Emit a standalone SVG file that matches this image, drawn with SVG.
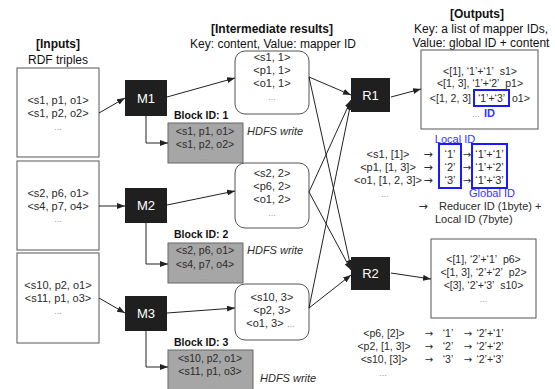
<svg xmlns="http://www.w3.org/2000/svg" width="555" height="389" viewBox="0 0 555 389">
<defs>
<marker id="arr" markerUnits="userSpaceOnUse" markerWidth="8" markerHeight="6" refX="8" refY="3" orient="auto">
<path d="M0,0 L8,3 L0,6 z" fill="#222"/>
</marker>
<style>
text{font-family:"Liberation Sans",Arial,sans-serif;fill:#2a2a2a}
.t{font-size:11px;text-anchor:middle}
.s{font-size:10.5px;text-anchor:middle}
.h{font-size:12px;text-anchor:middle;font-weight:bold;fill:#111}
.k{font-size:12px;text-anchor:middle;fill:#111}
.d{font-size:9px;fill:#999;text-anchor:middle}
.w{font-size:13px;fill:#fff;text-anchor:middle}
.bl{font-size:10.5px;font-weight:bold;fill:#111}
.hd{font-size:11px;font-style:italic}
.ar{font-size:11px;text-anchor:middle;font-family:"DejaVu Sans",sans-serif}
.box{fill:#fff;stroke:#555;stroke-width:1}
.blk{fill:#1f1f1f}
.gray{fill:#a6a6a6;stroke:#666;stroke-width:1}
.blue{fill:none;stroke:#1a1aff;stroke-width:2}
.bt{fill:#3333ff}
.c{fill:none;stroke:#222;stroke-width:1;marker-end:url(#arr)}
</style>
</defs>
<rect width="555" height="389" fill="#fff"/>

<g id="titles">
<text class="h" x="58" y="48">[Inputs]</text>
<text class="k" x="58" y="64">RDF triples</text>
<text class="h" x="272" y="33">[Intermediate results]</text>
<text class="k" x="273" y="48">Key: content, Value: mapper ID</text>
<text class="h" x="477" y="18">[Outputs]</text>
<text class="k" x="481" y="33">Key: a list of mapper IDs,</text>
<text class="k" x="481" y="47">Value: global ID + content</text>
</g>

<g id="input1">
<rect class="box" x="17" y="68" width="82" height="89"/>
<text class="t" x="58" y="104">&lt;s1, p1, o1&gt;</text>
<text class="t" x="58" y="117">&lt;s1, p2, o2&gt;</text>
<text class="d" x="58" y="130">...</text>
</g>
<g id="input2">
<rect class="box" x="17" y="161" width="82" height="89"/>
<text class="t" x="58" y="197">&lt;s2, p6, o1&gt;</text>
<text class="t" x="58" y="210">&lt;s4, p7, o4&gt;</text>
<text class="d" x="58" y="222">...</text>
</g>
<g id="input3">
<rect class="box" x="17" y="253" width="82" height="90"/>
<text class="t" x="58" y="289">&lt;s10, p2, o1&gt;</text>
<text class="t" x="58" y="302">&lt;s11, p1, o3&gt;</text>
<text class="d" x="58" y="314">...</text>
</g>

<g id="M1"><rect class="blk" x="125" y="80" width="42" height="36"/><text class="w" x="146" y="103">M1</text></g>
<g id="M2"><rect class="blk" x="125" y="188" width="42" height="35"/><text class="w" x="146" y="210">M2</text></g>
<g id="M3"><rect class="blk" x="125" y="296" width="42" height="35"/><text class="w" x="146" y="318">M3</text></g>

<g id="block1">
<text class="bl" x="174" y="119">Block ID: 1</text>
<rect class="gray" x="168" y="123" width="75" height="40"/>
<text class="s" x="205" y="135">&lt;s1, p1, o1&gt;</text>
<text class="s" x="205" y="148">&lt;s1, p2, o2&gt;</text>
<text class="d" x="205" y="160">...</text>
<text class="hd" x="247" y="135">HDFS write</text>
</g>
<g id="block2">
<text class="bl" x="174" y="238">Block ID: 2</text>
<rect class="gray" x="168" y="243" width="75" height="40"/>
<text class="s" x="205" y="254">&lt;s2, p6, o1&gt;</text>
<text class="s" x="205" y="268">&lt;s4, p7, o4&gt;</text>
<text class="d" x="205" y="280">...</text>
<text class="hd" x="247" y="254">HDFS write</text>
</g>
<g id="block3">
<text class="bl" x="174" y="346">Block ID: 3</text>
<rect class="gray" x="168" y="350" width="85" height="42"/>
<text class="s" x="210" y="362">&lt;s10, p2, o1&gt;</text>
<text class="s" x="210" y="375">&lt;s11, p1, o3&gt;</text>
<text class="d" x="210" y="387">...</text>
<text class="hd" x="260" y="382">HDFS write</text>
</g>

<g id="inter1">
<rect class="box" x="235" y="51" width="74" height="63" rx="10"/>
<text class="t" x="272" y="61">&lt;s1, 1&gt;</text>
<text class="t" x="272" y="74">&lt;p1, 1&gt;</text>
<text class="t" x="272" y="87">&lt;o1, 1&gt;</text>
<text class="d" x="272" y="100">...</text>
</g>
<g id="inter2">
<rect class="box" x="235" y="163" width="74" height="65" rx="10"/>
<text class="t" x="272" y="177">&lt;s2, 2&gt;</text>
<text class="t" x="272" y="190">&lt;p6, 2&gt;</text>
<text class="t" x="272" y="203">&lt;o1, 2&gt;</text>
<text class="d" x="272" y="216">...</text>
</g>
<g id="inter3">
<rect class="box" x="235" y="284" width="74" height="56" rx="10"/>
<text class="t" x="272" y="301">&lt;s10, 3&gt;</text>
<text class="t" x="272" y="314">&lt;p2, 3&gt;</text>
<text class="t" x="265" y="327">&lt;o1, 3&gt;</text>
<text class="d" x="291" y="327">...</text>
</g>

<g id="R1"><rect class="blk" x="351" y="78" width="39" height="34"/><text class="w" x="370.5" y="100">R1</text></g>
<g id="R2"><rect class="blk" x="351" y="257" width="39" height="33"/><text class="w" x="370.5" y="278">R2</text></g>

<g id="output1">
<rect class="box" x="421" y="50" width="117" height="79"/>
<text class="s" x="480" y="75">&lt;[1], ‘1’+‘1’&#160;&#160;s1&gt;</text>
<text class="s" x="480" y="87">&lt;[1, 3], ‘1’+‘2’&#160;&#160;p1&gt;</text>
<text class="s" x="471" y="102" style="text-anchor:end">&lt;[1, 2, 3]</text>
<rect class="blue" x="474" y="90" width="35" height="16"/>
<text class="s" x="491.5" y="102">‘1’+‘3’</text>
<text class="s" x="512" y="102" style="text-anchor:start">o1&gt;</text>
<text class="d" x="476" y="117">...</text>
<text class="bt" x="484" y="117" style="font-size:11px;font-weight:bold">ID</text>
</g>

<g id="localmap">
<text class="t" x="388" y="158">&lt;s1, [1]&gt;</text>
<text class="t" x="388" y="171">&lt;p1, [1, 3]&gt;</text>
<text class="t" x="388" y="184">&lt;o1, [1, 2, 3]&gt;</text>
<text class="d" x="385" y="197">...</text>
<text class="ar" x="428" y="158">→</text>
<text class="ar" x="428" y="171">→</text>
<text class="ar" x="428" y="184">→</text>
<text class="bt" x="455" y="143" style="font-size:11px;text-anchor:middle">Local ID</text>
<rect class="blue" x="439" y="144" width="22" height="44"/>
<text class="t" x="450" y="158">‘1’</text>
<text class="t" x="450" y="171">‘2’</text>
<text class="t" x="450" y="184">‘3’</text>
<text class="ar" x="467" y="158" style="font-size:10px">→</text>
<text class="ar" x="467" y="171" style="font-size:10px">→</text>
<text class="ar" x="467" y="184" style="font-size:10px">→</text>
<rect class="blue" x="472" y="144" width="35" height="44"/>
<text class="t" x="489.5" y="158">‘1’+‘1’</text>
<text class="t" x="489.5" y="171">‘1’+‘2’</text>
<text class="t" x="489.5" y="184">‘1’+‘3’</text>
<text class="bt" x="492" y="197" style="font-size:11px;text-anchor:middle">Global ID</text>
<text class="ar" x="423" y="210">→</text>
<text x="439" y="210" style="font-size:11px">Reducer ID (1byte) +</text>
<text x="435" y="223" style="font-size:11px">Local ID (7byte)</text>
</g>

<g id="output2">
<rect class="box" x="431" y="239" width="105" height="79"/>
<text class="s" x="483.5" y="263">&lt;[1], ‘2’+‘1’&#160;&#160;p6&gt;</text>
<text class="s" x="483.5" y="276">&lt;[1, 3], ‘2’+‘2’&#160;&#160;p2&gt;</text>
<text class="s" x="483.5" y="289">&lt;[3], ‘2’+‘3’&#160;&#160;s10&gt;</text>
<text class="d" x="483.5" y="302">...</text>
</g>

<g id="r2map">
<text class="s" x="384" y="337">&lt;p6, [2]&gt;</text>
<text class="s" x="384" y="350">&lt;p2, [1, 3]&gt;</text>
<text class="s" x="384" y="363">&lt;s10, [3]&gt;</text>
<text class="d" x="383" y="376">...</text>
<text class="ar" x="429" y="337" style="font-size:10px">→</text>
<text class="ar" x="429" y="350" style="font-size:10px">→</text>
<text class="ar" x="429" y="363" style="font-size:10px">→</text>
<text class="s" x="448" y="337">‘1’</text>
<text class="s" x="448" y="350">‘2’</text>
<text class="s" x="448" y="363">‘3’</text>
<text class="ar" x="468" y="337" style="font-size:10px">→</text>
<text class="ar" x="468" y="350" style="font-size:10px">→</text>
<text class="ar" x="468" y="363" style="font-size:10px">→</text>
<text class="s" x="490" y="337">‘2’+‘1’</text>
<text class="s" x="490" y="350">‘2’+‘2’</text>
<text class="s" x="490" y="363">‘2’+‘3’</text>
</g>

<g id="connectors">
<path class="c" d="M99,113 L125,98"/>
<path class="c" d="M99,206 L125,206"/>
<path class="c" d="M99,298 L125,313"/>
<path class="c" d="M146,116 V143 H168"/>
<path class="c" d="M146,223 V264 H168"/>
<path class="c" d="M146,331 V367 H168"/>
<path class="c" d="M167,97 L235,78"/>
<path class="c" d="M167,205 L235,191"/>
<path class="c" d="M167,313 L235,308"/>
<path class="c" d="M309,77 L351,95"/>
<path class="c" d="M309,77 L351,268"/>
<path class="c" d="M309,192 L351,100"/>
<path class="c" d="M309,192 L351,270"/>
<path class="c" d="M309,308 L351,102"/>
<path class="c" d="M309,308 L351,275"/>
<path class="c" d="M391,97 L421,89"/>
<path class="c" d="M391,273 L431,279"/>
</g>
</svg>
